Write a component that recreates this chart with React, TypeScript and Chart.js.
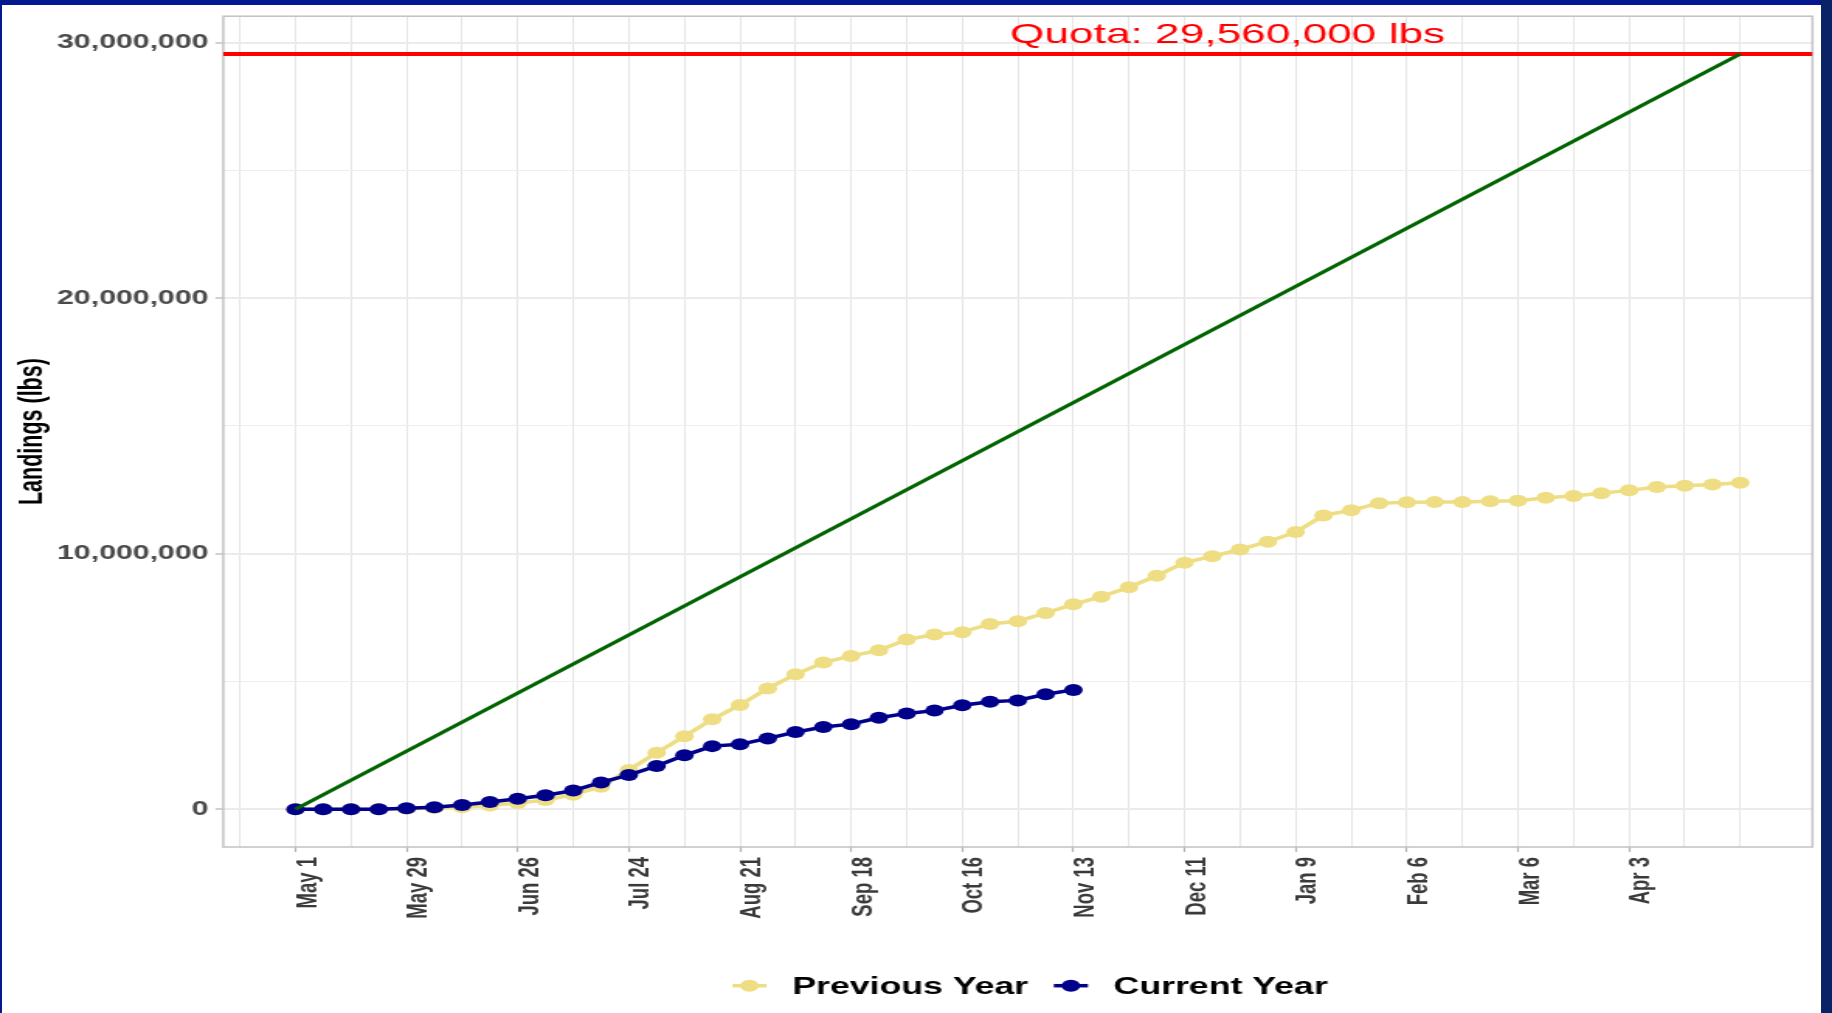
import React, { useEffect, useRef } from "react";
import { Chart, registerables } from "chart.js";

Chart.register(...registerables);

// ---------- data ----------
const QUOTA = 29560000;
const QUOTA_LABEL = "Quota: 29,560,000 lbs";
const WEEK_COUNT = 53; // weekly points, May 1 .. Apr 30
const TICK_WEEKS = [0, 4, 8, 12, 16, 20, 24, 28, 32, 36, 40, 44, 48];
const TICK_LABELS = ["May 1", "May 29", "Jun 26", "Jul 24", "Aug 21", "Sep 18", "Oct 16", "Nov 13", "Dec 11", "Jan 9", "Feb 6", "Mar 6", "Apr 3"];
const Y_TICKS = [0, 10000000, 20000000, 30000000];
const Y_GRID = [0, 5000000, 10000000, 15000000, 20000000, 25000000, 30000000];
const X_GRID = [-2, 0, 2, 4, 6, 8, 10, 12, 14, 16, 18, 20, 22, 24, 26, 28, 30, 32, 34, 36, 38, 40, 42, 44, 46, 48, 50, 52];

const PREVIOUS_YEAR = [
  0, 0, 0, 0, 20000, 50000, 80000, 150000, 240000, 360000,
  570000, 880000, 1540000, 2210000, 2860000, 3520000, 4080000, 4730000, 5280000, 5740000,
  6000000, 6220000, 6640000, 6840000, 6930000, 7250000, 7360000, 7680000, 8020000, 8320000,
  8690000, 9140000, 9650000, 9900000, 10170000, 10470000, 10850000, 11500000, 11700000, 11980000,
  12010000, 12020000, 12020000, 12050000, 12070000, 12190000, 12260000, 12370000, 12480000, 12610000,
  12660000, 12710000, 12780000,
];
const CURRENT_YEAR = [
  0, 0, 0, 0, 40000, 80000, 170000, 280000, 410000, 550000,
  730000, 1050000, 1340000, 1690000, 2110000, 2470000, 2540000, 2770000, 3020000, 3220000,
  3330000, 3580000, 3750000, 3860000, 4070000, 4210000, 4260000, 4500000, 4670000,
];

// ---------- styling ----------
const YELLOW = "#eedd82";
const NAVY = "#00008b";
const GREEN = "#006400";
const RED = "#ff0000";
const FONT = '"Liberation Sans", Arial, Helvetica, sans-serif';
const STRETCH = 1.55;
const PAGE_W = 1832;
const PAGE_H = 1013;
const INNER_W = PAGE_W / STRETCH;

const X_SPAN = WEEK_COUNT - 1;
const X_MIN = -0.05 * X_SPAN;
const X_MAX = X_SPAN + 0.05 * X_SPAN;
const Y_MIN = -0.05 * QUOTA;
const Y_MAX = QUOTA * 1.05;

const panelBorder = {
  id: "panelBorder",
  beforeDatasetsDraw(chart: any) {
    const { ctx, chartArea } = chart;
    ctx.save();
    ctx.strokeStyle = "#c2c2c2";
    ctx.lineWidth = 1.5;
    ctx.strokeRect(chartArea.left, chartArea.top, chartArea.right - chartArea.left, chartArea.bottom - chartArea.top);
    ctx.restore();
  },
};

const quotaLabel = {
  id: "quotaLabel",
  afterDatasetsDraw(chart: any) {
    const { ctx, scales } = chart;
    const x = scales.x.getPixelForValue(33.55);
    const y = scales.y.getPixelForValue(QUOTA) - 10.5;
    ctx.save();
    ctx.font = `28.5px ${FONT}`;
    ctx.fillStyle = RED;
    ctx.textAlign = "center";
    ctx.textBaseline = "alphabetic";
    ctx.fillText(QUOTA_LABEL, x, y);
    ctx.restore();
  },
};

const customLegend = {
  id: "customLegend",
  afterDraw(chart: any) {
    const { ctx } = chart;
    const items = [
      { label: "Previous Year", color: YELLOW },
      { label: "Current Year", color: NAVY },
    ];
    const sym = 22;
    const gap = 16.5;
    ctx.save();
    ctx.font = `bold 23px ${FONT}`;
    const widths = items.map((it) => ctx.measureText(it.label).width);
    let total = 0;
    widths.forEach((w, i) => {
      total += sym + gap + w + (i > 0 ? gap : 0);
    });
    let x = 664 - total / 2;
    const ySym = 985.7;
    const yText = 993.5;
    items.forEach((it, i) => {
      ctx.strokeStyle = it.color;
      ctx.lineWidth = 3.5;
      ctx.beginPath();
      ctx.moveTo(x, ySym);
      ctx.lineTo(x + sym, ySym);
      ctx.stroke();
      ctx.fillStyle = it.color;
      ctx.beginPath();
      ctx.arc(x + sym / 2, ySym, 6, 0, Math.PI * 2);
      ctx.fill();
      ctx.fillStyle = "#000000";
      ctx.textAlign = "left";
      ctx.textBaseline = "alphabetic";
      ctx.fillText(it.label, x + sym + gap, yText);
      x += sym + gap + widths[i] + gap;
    });
    ctx.restore();
  },
};

export default function App() {
  const ref = useRef<HTMLCanvasElement>(null);

  useEffect(() => {
    const canvas = ref.current;
    if (!canvas) return;
    Chart.defaults.font.family = FONT;
    const chart = new Chart(canvas, {
      type: "line",
      data: {
        datasets: [
          {
            label: "Target pace",
            data: [
              { x: 0, y: 0 },
              { x: WEEK_COUNT - 1, y: QUOTA },
            ],
            borderColor: GREEN,
            borderWidth: 3,
            pointRadius: 0,
            order: 0,
          },
          {
            label: "Quota",
            data: [
              { x: X_MIN, y: QUOTA },
              { x: X_MAX, y: QUOTA },
            ],
            borderColor: RED,
            borderWidth: 4,
            pointRadius: 0,
            order: 1,
          },
          {
            label: "Current Year",
            data: CURRENT_YEAR.map((v, i) => ({ x: i, y: v })),
            borderColor: NAVY,
            backgroundColor: NAVY,
            borderWidth: 3.5,
            pointRadius: 6,
            pointBorderWidth: 0,
            pointBackgroundColor: NAVY,
            order: 2,
          },
          {
            label: "Previous Year",
            data: PREVIOUS_YEAR.map((v, i) => ({ x: i, y: v })),
            borderColor: YELLOW,
            backgroundColor: YELLOW,
            borderWidth: 3.5,
            pointRadius: 6,
            pointBorderWidth: 0,
            pointBackgroundColor: YELLOW,
            order: 3,
          },
        ],
      },
      options: {
        animation: false,
        responsive: true,
        maintainAspectRatio: false,
        layout: { padding: { top: 14, right: INNER_W - 1811 / STRETCH, left: 0, bottom: 0 } },
        plugins: { legend: { display: false }, tooltip: { enabled: false } },
        scales: {
          x: {
            type: "linear",
            min: X_MIN,
            max: X_MAX,
            afterBuildTicks: (s: any) => {
              s.ticks = X_GRID.map((v) => ({ value: v }));
            },
            afterFit: (s: any) => {
              s.height = PAGE_H - 847;
            },
            ticks: {
              autoSkip: false,
              minRotation: 90,
              maxRotation: 90,
              padding: 5,
              labelOffset: 8,
              color: "#3a3a3a",
              font: { size: 18.5, weight: "bold" },
              callback: (v: any) => {
                const idx = TICK_WEEKS.indexOf(Number(v));
                return idx >= 0 ? TICK_LABELS[idx] : "";
              },
            },
            grid: {
              color: "#e2e2e2",
              lineWidth: 0.9,
              tickLength: 5,
              tickWidth: 1.2,
              tickColor: (c: any) => (c.tick && TICK_WEEKS.includes(c.tick.value) ? "#b3b3b3" : "rgba(0,0,0,0)"),
            },
            border: { display: false },
          },
          y: {
            type: "linear",
            min: Y_MIN,
            max: Y_MAX,
            afterBuildTicks: (s: any) => {
              s.ticks = Y_GRID.map((v) => ({ value: v }));
            },
            afterFit: (s: any) => {
              s.width = 223 / STRETCH;
            },
            ticks: {
              padding: 4.5,
              color: "#4a4a4a",
              font: { size: 19.5, weight: "bold" },
              callback: (v: any) => (Y_TICKS.includes(Number(v)) ? Number(v).toLocaleString("en-US") : ""),
            },
            grid: {
              color: (c: any) => (c.tick && Y_TICKS.includes(c.tick.value) ? "#ebebeb" : "#eeeeee"),
              lineWidth: (c: any) => (c.tick && Y_TICKS.includes(c.tick.value) ? 2 : 1),
              tickLength: 5,
              tickWidth: 1.2,
              tickColor: (c: any) => (c.tick && Y_TICKS.includes(c.tick.value) ? "#b3b3b3" : "rgba(0,0,0,0)"),
            },
            title: {
              display: true,
              text: "Landings (lbs)",
              color: "#000000",
              font: { size: 21.5, weight: "bold" },
              padding: { top: 8.5, bottom: 0 },
            },
            border: { display: false },
          },
        },
      },
      plugins: [panelBorder, quotaLabel, customLegend],
    } as any);
    return () => chart.destroy();
  }, []);

  return (
    <div
      style={{
        position: "fixed",
        left: 0,
        top: 0,
        width: PAGE_W,
        height: PAGE_H,
        background: "#ffffff",
        overflow: "hidden",
      }}
    >
      <div
        style={{
          position: "absolute",
          left: 0,
          top: 0,
          width: INNER_W,
          height: PAGE_H,
          transform: `scaleX(${STRETCH})`,
          transformOrigin: "0 0",
        }}
      >
        <canvas ref={ref} style={{ display: "block" }} />
      </div>
      <div style={{ position: "absolute", left: 0, top: 0, width: PAGE_W, height: 5, background: "#041890" }} />
      <div style={{ position: "absolute", left: 0, top: 0, width: 2, height: PAGE_H, background: "#041890" }} />
      <div style={{ position: "absolute", left: 1821, top: 0, width: 11, height: PAGE_H, background: "#0a2266" }} />
    </div>
  );
}
